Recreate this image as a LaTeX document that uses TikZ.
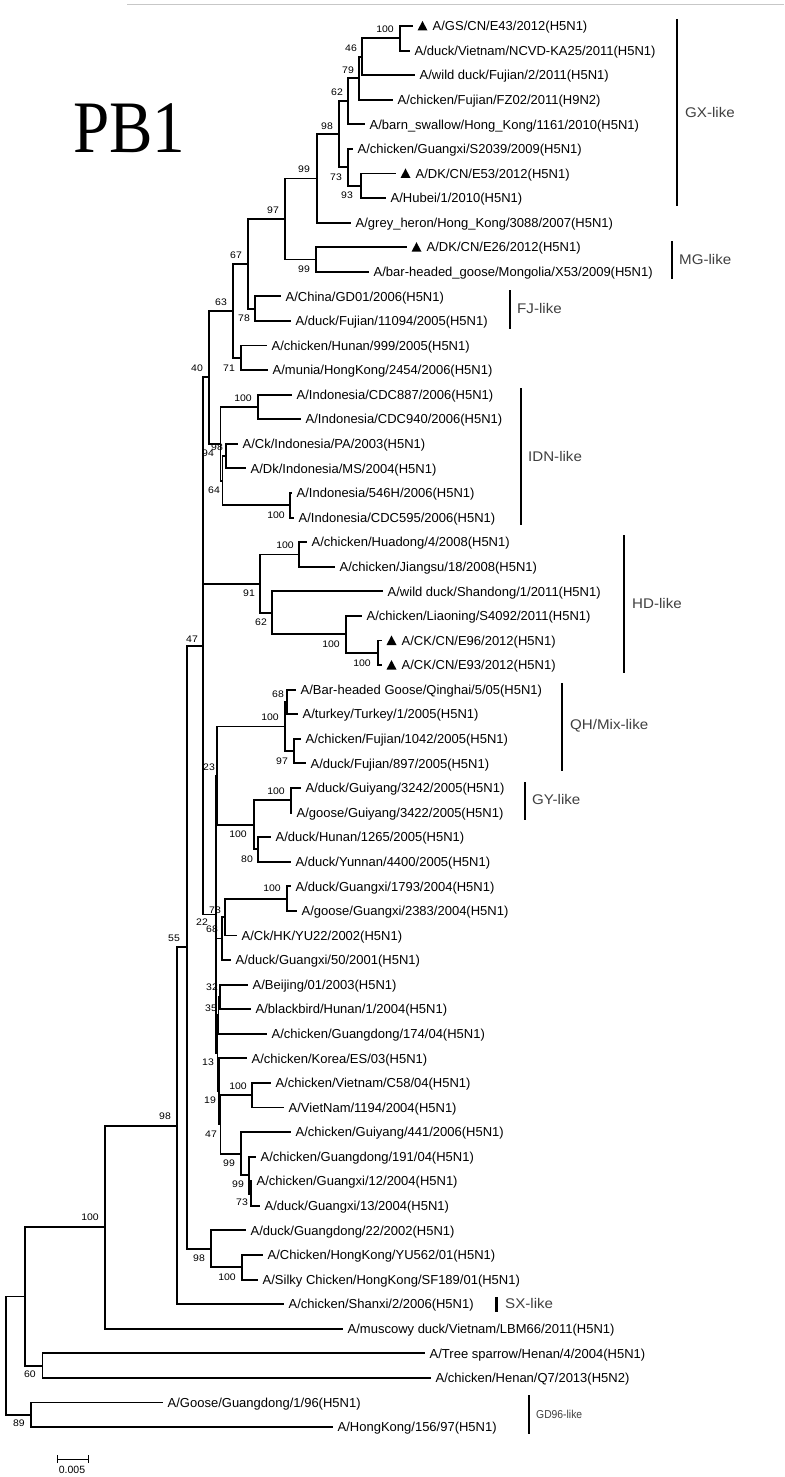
\documentclass[tikz,border=0pt]{standalone}
\usepackage{fontspec}
\setmainfont{Liberation Sans}
\newfontfamily\pbfont{Liberation Serif}
\usetikzlibrary{calc}
\tikzset{
  br/.style={line width=1.9pt, line join=miter},
  lab/.style={anchor=base west, inner sep=0pt, font=\fontsize{13}{15}\selectfont},
  bsl/.style={inner sep=0pt, font=\fontsize{9.5}{10}\selectfont},
  cbar/.style={line width=2.1pt},
  clab/.style={inner sep=0pt, text=black!75, font=\fontsize{14}{16}\selectfont},
}
\newcommand\leaf[3]{\coordinate (L#1) at (#2,{26+24.58*(#1-1)});
  \node[lab] (t#1) at ($(L#1)+(4.5,4.7)$) {#3};}
\newcommand\leaft[3]{\coordinate (L#1) at (#2,{26+24.58*(#1-1)});
  \fill ($(L#1)+(4.5,4.5)$) -- ($(L#1)+(14.5,4.5)$) -- ($(L#1)+(9.5,-5)$) -- cycle;
  \node[lab] (t#1) at ($(L#1)+(19.5,4.7)$) {#3};}
\newcommand\inode[4]{\path let \p1=(#3), \p2=(#4) in coordinate (#1) at (#2pt,{(\y1+\y2)/2});}
\newcommand\kids[2]{\foreach \c in {#2} {\draw[br] (#1) |- (\c);}}
\newcommand\bs[3]{\node[bsl] (#1) at (#2) {\scalebox{1.1}[1]{#3}};}
\newcommand\clade[7]{\coordinate (#1t) at (#2,#3); \coordinate (#1b) at (#2,#4);
  \draw[cbar] (#1t) -- (#1b); \node[clab,anchor=west] (#1l) at (#5,#6) {\scalebox{1.08}[1]{#7}};}
\begin{document}
\begin{tikzpicture}[x=1pt,y=-1pt]
\fill[white] (0,0) rectangle (784,1477);
\useasboundingbox (0,0) rectangle (784,1477);
\coordinate (gl1) at (127,4.5); \coordinate (gl2) at (784,4.5);
\draw[line width=1.2pt, black!22] (gl1) -- (gl2);
\node[anchor=base west, inner sep=0pt, font=\pbfont\fontsize{74}{74}\selectfont] (title) at (73,153) {\scalebox{0.88}[1]{PB1}};
% leaves
\leaft{1}{413}{A/GS/CN/E43/2012(H5N1)}
\leaf{2}{410}{A/duck/Vietnam/NCVD-KA25/2011(H5N1)}
\leaf{3}{415}{A/wild duck/Fujian/2/2011(H5N1)}
\leaf{4}{393}{A/chicken/Fujian/FZ02/2011(H9N2)}
\leaf{5}{365}{A/barn\_swallow/Hong\_Kong/1161/2010(H5N1)}
\leaf{6}{353}{A/chicken/Guangxi/S2039/2009(H5N1)}
\leaft{7}{396}{A/DK/CN/E53/2012(H5N1)}
\leaf{8}{386}{A/Hubei/1/2010(H5N1)}
\leaf{9}{351}{A/grey\_heron/Hong\_Kong/3088/2007(H5N1)}
\leaft{10}{407}{A/DK/CN/E26/2012(H5N1)}
\leaf{11}{369}{A/bar-headed\_goose/Mongolia/X53/2009(H5N1)}
\leaf{12}{281}{A/China/GD01/2006(H5N1)}
\leaf{13}{291}{A/duck/Fujian/11094/2005(H5N1)}
\leaf{14}{267}{A/chicken/Hunan/999/2005(H5N1)}
\leaf{15}{268}{A/munia/HongKong/2454/2006(H5N1)}
\leaf{16}{292}{A/Indonesia/CDC887/2006(H5N1)}
\leaf{17}{301}{A/Indonesia/CDC940/2006(H5N1)}
\leaf{18}{238}{A/Ck/Indonesia/PA/2003(H5N1)}
\leaf{19}{246}{A/Dk/Indonesia/MS/2004(H5N1)}
\leaf{20}{292}{A/Indonesia/546H/2006(H5N1)}
\leaf{21}{294}{A/Indonesia/CDC595/2006(H5N1)}
\leaf{22}{307}{A/chicken/Huadong/4/2008(H5N1)}
\leaf{23}{335}{A/chicken/Jiangsu/18/2008(H5N1)}
\leaf{24}{383}{A/wild duck/Shandong/1/2011(H5N1)}
\leaf{25}{362}{A/chicken/Liaoning/S4092/2011(H5N1)}
\leaft{26}{382}{A/CK/CN/E96/2012(H5N1)}
\leaft{27}{382}{A/CK/CN/E93/2012(H5N1)}
\leaf{28}{296}{A/Bar-headed Goose/Qinghai/5/05(H5N1)}
\leaf{29}{298}{A/turkey/Turkey/1/2005(H5N1)}
\leaf{30}{301}{A/chicken/Fujian/1042/2005(H5N1)}
\leaf{31}{306}{A/duck/Fujian/897/2005(H5N1)}
\leaf{32}{301}{A/duck/Guiyang/3242/2005(H5N1)}
\leaf{33}{292}{A/goose/Guiyang/3422/2005(H5N1)}
\leaf{34}{271}{A/duck/Hunan/1265/2005(H5N1)}
\leaf{35}{291}{A/duck/Yunnan/4400/2005(H5N1)}
\leaf{36}{291}{A/duck/Guangxi/1793/2004(H5N1)}
\leaf{37}{297}{A/goose/Guangxi/2383/2004(H5N1)}
\leaf{38}{237}{A/Ck/HK/YU22/2002(H5N1)}
\leaf{39}{231}{A/duck/Guangxi/50/2001(H5N1)}
\leaf{40}{248}{A/Beijing/01/2003(H5N1)}
\leaf{41}{251}{A/blackbird/Hunan/1/2004(H5N1)}
\leaf{42}{267}{A/chicken/Guangdong/174/04(H5N1)}
\leaf{43}{247}{A/chicken/Korea/ES/03(H5N1)}
\leaf{44}{271}{A/chicken/Vietnam/C58/04(H5N1)}
\leaf{45}{284}{A/VietNam/1194/2004(H5N1)}
\leaf{46}{291}{A/chicken/Guiyang/441/2006(H5N1)}
\leaf{47}{256}{A/chicken/Guangdong/191/04(H5N1)}
\leaf{48}{252}{A/chicken/Guangxi/12/2004(H5N1)}
\leaf{49}{260}{A/duck/Guangxi/13/2004(H5N1)}
\leaf{50}{246}{A/duck/Guangdong/22/2002(H5N1)}
\leaf{51}{263}{A/Chicken/HongKong/YU562/01(H5N1)}
\leaf{52}{258}{A/Silky Chicken/HongKong/SF189/01(H5N1)}
\leaf{53}{284}{A/chicken/Shanxi/2/2006(H5N1)}
\leaf{54}{343}{A/muscowy duck/Vietnam/LBM66/2011(H5N1)}
\leaf{55}{425}{A/Tree sparrow/Henan/4/2004(H5N1)}
\leaf{56}{431}{A/chicken/Henan/Q7/2013(H5N2)}
\leaf{57}{163}{A/Goose/Guangdong/1/96(H5N1)}
\leaf{58}{333}{A/HongKong/156/97(H5N1)}
% internal nodes
\inode{a100}{400}{L1}{L2}
\inode{a46}{362}{a100}{L3}
\inode{a79}{359}{a46}{L4}
\inode{a62}{348}{a79}{L5}
\inode{a93}{361}{L7}{L8}
\inode{a73}{348}{L6}{a93}
\inode{a98}{339}{a62}{a73}
\inode{a99}{317}{a98}{L9}
\inode{mg99}{316}{L10}{L11}
\inode{a97}{285}{a99}{mg99}
\inode{fj78}{255}{L12}{L13}
\inode{a67}{248}{a97}{fj78}
\inode{h71}{241}{L14}{L15}
\inode{a63}{233}{a67}{h71}
\inode{i100a}{258}{L16}{L17}
\inode{i98}{226}{L18}{L19}
\inode{i100b}{290}{L20}{L21}
\inode{i64}{222.5}{i98}{i100b}
\inode{i94}{220.5}{i100a}{i64}
\inode{a40}{209}{a63}{i94}
\inode{h100a}{299}{L22}{L23}
\inode{h100c}{378}{L26}{L27}
\inode{h100b}{346}{L25}{h100c}
\inode{h62}{272}{L24}{h100b}
\inode{h91}{260}{h100a}{h62}
\inode{q68}{287}{L28}{L29}
\inode{q97}{294}{L30}{L31}
\inode{q100}{285}{q68}{q97}
\inode{g100a}{291}{L32}{L33}
\inode{g80}{258}{L34}{L35}
\inode{g100}{254}{g100a}{g80}
\inode{n23}{217}{q100}{g100}
\inode{x100}{287}{L36}{L37}
\inode{x73}{225}{x100}{L38}
\inode{x68}{222}{x73}{L39}
\inode{n32}{220}{L40}{L41}
\inode{n35}{218.5}{n32}{L42}
\inode{v100}{252}{L44}{L45}
\inode{c73}{251}{L48}{L49}
\inode{c99b}{249}{L47}{c73}
\inode{c99}{241}{L46}{c99b}
\inode{n47}{220.5}{v100}{c99}
\inode{n19}{219}{L43}{n47}
\inode{n13}{217.5}{n35}{n19}
\inode{n22}{216}{n23}{n13}
\inode{n47t}{203}{a40}{n22}
\inode{hk100}{242}{L51}{L52}
\inode{hk98}{211}{L50}{hk100}
\inode{n55}{187}{n47t}{hk98}
\inode{n98}{177}{n55}{L53}
\inode{n100}{105}{n98}{L54}
\inode{n60}{42.5}{L55}{L56}
\inode{nA}{25}{n100}{n60}
\inode{n89}{31}{L57}{L58}
\inode{root}{6}{nA}{n89}
% branches
\kids{a100}{L1,L2}
\kids{a46}{a100,L3}
\kids{a79}{a46,L4}
\kids{a62}{a79,L5}
\kids{a93}{L7,L8}
\kids{a73}{L6,a93}
\kids{a98}{a62,a73}
\kids{a99}{a98,L9}
\kids{mg99}{L10,L11}
\kids{a97}{a99,mg99}
\kids{fj78}{L12,L13}
\kids{a67}{a97,fj78}
\kids{h71}{L14,L15}
\kids{a63}{a67,h71}
\kids{i100a}{L16,L17}
\kids{i98}{L18,L19}
\kids{i100b}{L20,L21}
\kids{i64}{i98,i100b}
\kids{i94}{i100a,i64}
\kids{a40}{a63,i94}
\kids{h100a}{L22,L23}
\kids{h100c}{L26,L27}
\kids{h100b}{L25,h100c}
\kids{h62}{L24,h100b}
\kids{h91}{h100a,h62}
\kids{q68}{L28,L29}
\kids{q97}{L30,L31}
\kids{q100}{q68,q97}
\kids{g100a}{L32,L33}
\kids{g80}{L34,L35}
\kids{g100}{g100a,g80}
\kids{n23}{q100,g100}
\kids{x100}{L36,L37}
\kids{x73}{x100,L38}
\kids{x68}{x73,L39}
\kids{n32}{L40,L41}
\kids{n35}{n32,L42}
\kids{v100}{L44,L45}
\kids{c73}{L48,L49}
\kids{c99b}{L47,c73}
\kids{c99}{L46,c99b}
\kids{n47}{v100,c99}
\kids{n19}{L43,n47}
\kids{n13}{n35,n19}
\kids{n22}{n23,x68,n13}
\kids{n47t}{a40,h91,n22}
\kids{hk100}{L51,L52}
\kids{hk98}{L50,hk100}
\kids{n55}{n47t,hk98}
\kids{n98}{n55,L53}
\kids{n100}{n98,L54}
\kids{n60}{L55,L56}
\kids{nA}{n100,n60}
\kids{n89}{L57,L58}
\kids{root}{nA,n89}
% bootstrap values
\bs{b1}{385,29}{100}
\bs{b2}{351,48}{46}
\bs{b3}{348,70}{79}
\bs{b4}{337,92}{62}
\bs{b5}{327,126}{98}
\bs{b6}{304,169}{99}
\bs{b7}{273,210}{97}
\bs{b8}{336,177}{73}
\bs{b9}{347,195}{93}
\bs{b10}{304,269}{99}
\bs{b11}{236,255}{67}
\bs{b12}{221,302}{63}
\bs{b13}{244,318}{78}
\bs{b14}{229,368}{71}
\bs{b15}{197,368}{40}
\bs{b16}{243,398}{100}
\bs{b17}{217,447}{98}
\bs{b18}{208,453}{94}
\bs{b19}{214,490}{64}
\bs{b20}{276,515}{100}
\bs{b21}{285,545}{100}
\bs{b22}{249,593}{91}
\bs{b23}{261,622}{62}
\bs{b24}{331,644}{100}
\bs{b25}{362,663}{100}
\bs{b26}{192,639}{47}
\bs{b27}{278,694}{68}
\bs{b28}{270,717}{100}
\bs{b29}{282,761}{97}
\bs{b30}{209,767}{23}
\bs{b31}{276,791}{100}
\bs{b32}{238,834}{100}
\bs{b33}{247,859}{80}
\bs{b34}{272,888}{100}
\bs{b35}{215,910}{73}
\bs{b36}{202,922}{22}
\bs{b37}{212,929}{68}
\bs{b38}{174,938}{55}
\bs{b39}{212,987}{32}
\bs{b40}{211,1008}{35}
\bs{b41}{208,1062}{13}
\bs{b42}{238,1086}{100}
\bs{b43}{210,1100}{19}
\bs{b44}{211,1134}{47}
\bs{b45}{229,1163}{99}
\bs{b46}{238,1184}{99}
\bs{b47}{242,1202}{73}
\bs{b48}{199,1258}{98}
\bs{b49}{227,1277}{100}
\bs{b50}{165,1116}{98}
\bs{b51}{90,1217}{100}
\bs{b52}{30,1374}{60}
\bs{b53}{19,1423}{89}
% clade bars
\clade{gx}{677}{19}{206}{685}{112}{GX-like}
\clade{mg}{672}{241}{279}{679}{259}{MG-like}
\clade{fj}{510}{290}{329}{517}{308}{FJ-like}
\clade{idn}{521}{388}{525}{528}{456}{IDN-like}
\clade{hd}{624}{535}{673}{632}{603}{HD-like}
\clade{qh}{562}{683}{771}{570}{726}{QH/Mix-like}
\clade{gy}{525}{782}{820}{532}{799}{GY-like}
\clade{sx}{496.5}{1297}{1312}{505}{1303}{SX-like}
\coordinate (gdt) at (529,1395); \coordinate (gdb) at (529,1434);
\draw[cbar] (gdt) -- (gdb);
\node[inner sep=0pt, anchor=west, text=black!75, font=\fontsize{11.5}{12}\selectfont] (gdl) at (536,1414) {\scalebox{0.9}[1]{GD96-like}};
% scale bar
\coordinate (sbL) at (57.5,1459); \coordinate (sbR) at (88.5,1459);
\draw[line width=1pt] (sbL) -- (sbR);
\draw[line width=1pt] ($(sbL)+(0,-4)$) -- ($(sbL)+(0,4)$);
\draw[line width=1pt] ($(sbR)+(0,-4)$) -- ($(sbR)+(0,4)$);
\node[inner sep=0pt, font=\fontsize{10.5}{11}\selectfont] (sbt) at (72,1470) {0.005};
\end{tikzpicture}
\end{document}
